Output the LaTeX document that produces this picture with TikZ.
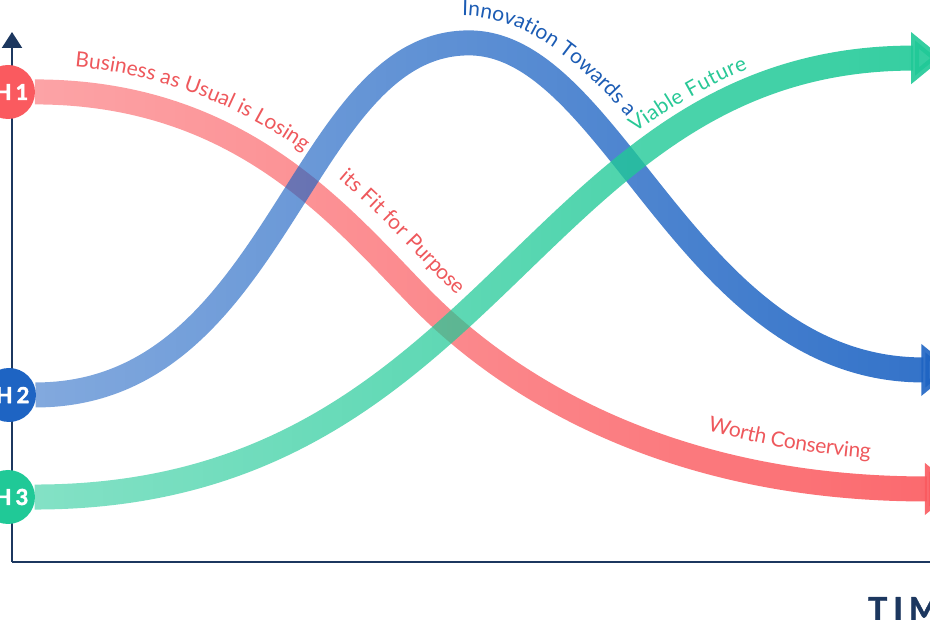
\documentclass[tikz,border=0pt]{standalone}
\usepackage{fontspec}
\setmainfont{Lato}
\usetikzlibrary{arrows.meta,decorations.text,fadings}

\definecolor{axiscol}{RGB}{28,55,95}
\definecolor{redcol}{RGB}{250,90,95}
\definecolor{bluecol}{RGB}{30,100,195}
\definecolor{greencol}{RGB}{32,201,151}
\definecolor{redtext}{RGB}{238,88,92}
\definecolor{bluetext}{RGB}{28,92,180}
\definecolor{greentext}{RGB}{40,200,150}

\tikzfading[name=fade along, left color=transparent!45, right color=transparent!8]
\pgfdeclarelayer{background}
\pgfsetlayers{background,main}

\newcommand{\labelfont}{\fontsize{21bp}{21bp}\selectfont}

\begin{document}
\begin{tikzpicture}[>=latex,line join=round,
  axis/.style={draw=axiscol, line width=2.2bp},
  curve/.style={line width=25bp, path fading=fade along, -{Triangle[width=50bp,length=32bp]}},
  hcircle/.style={circle, minimum size=54bp, inner sep=0pt, text=white,
    font=\fontsize{22bp}{22bp}\selectfont\bfseries\addfontfeature{FakeBold=2}},
  curvetext/.style={decorate, decoration={text along path, raise=27bp,
    text align={left indent=#1}}},
  guidetext/.style={decorate, decoration={text along path,
    text align={left indent=#1}}}]
  \useasboundingbox (0bp,0bp) rectangle (930bp,620bp);
  \clip (0bp,0bp) rectangle (930bp,620bp);
%%
  % Node: H1, H2, H3
  \node [hcircle, fill=redcol] (h1) at (8bp,528bp) {\kern7bp H\kern4bp 1};
  \node [hcircle, fill=bluecol] (h2) at (9bp,225bp) {\kern7bp H\kern4bp 2};
  \node [hcircle, fill=greencol] (h3) at (8bp,123bp) {\kern7bp H\kern4bp 3};
  \coordinate (origin) at (12bp,58bp);
  \coordinate (ytop) at (12bp,588bp);
  \coordinate (xend) at (940bp,58bp);
  \coordinate (bluetop) at (470bp,577bp);
  \coordinate (redend) at (958bp,131bp);
  \coordinate (blueend) at (955bp,250bp);
  \coordinate (greenend) at (945bp,562bp);
\begin{pgfonlayer}{background}
  % Axes
  \draw [axis, -{Triangle[width=20bp,length=16bp]}] (origin) -- (ytop);
  \draw [axis] (origin) -- (xend);
  % Edge: H1 -- red end
  \draw [curve, redcol] (h1.east) .. controls (240bp,528bp) and (340bp,405bp) .. (420bp,323bp)
    .. controls (500bp,241bp) and (660bp,131bp) .. (redend);
  % Edge: H2 -- blue end
  \draw [curve, bluecol] (h2.east) .. controls (280bp,225bp) and (300bp,577bp) .. (bluetop)
    .. controls (615bp,577bp) and (690bp,250bp) .. (blueend);
  % Edge: H3 -- green end
  \draw [curve, greencol] (h3.east) .. controls (498bp,123bp) and (532bp,562bp) .. (greenend);
\end{pgfonlayer}
%%
  % Labels along the curves
  \path [guidetext=40bp, decoration={text={|\labelfont\color{redtext}|Business as Usual is Losing}}]
    (35bp,555bp) .. controls (158bp,555bp) and (260bp,505bp) .. (326bp,452bp);
  \path [curvetext=312bp, decoration={text={|\labelfont\color{redtext}|its Fit for Purpose}}]
    (h1.east) .. controls (240bp,528bp) and (340bp,405bp) .. (420bp,323bp)
    .. controls (500bp,241bp) and (660bp,131bp) .. (redend);
  \path [curvetext=778bp, decoration={text={|\labelfont\color{redtext}|Worth Conserving}}]
    (h1.east) .. controls (240bp,528bp) and (340bp,405bp) .. (420bp,323bp)
    .. controls (500bp,241bp) and (660bp,131bp) .. (redend);
  \path [guidetext=0bp, decoration={text={|\labelfont\color{bluetext}|Innovation Towards a}}]
    (462bp,604bp) .. controls (540bp,604bp) and (601bp,536bp) .. (655bp,470bp);
  \path [curvetext=725bp, decoration={text={|\labelfont\color{greentext}|Viable Future}}]
    (h3.east) .. controls (498bp,123bp) and (532bp,562bp) .. (greenend);
  % Axis label
  \node [anchor=north west, inner sep=0pt, text=axiscol,
    font=\fontsize{32bp}{32bp}\selectfont\bfseries\addfontfeature{FakeBold=1.5}] (timelabel) at (868bp,23bp)
    {T\kern6bp I\kern6bp M\kern6bp E};
%
\end{tikzpicture}
\end{document}
